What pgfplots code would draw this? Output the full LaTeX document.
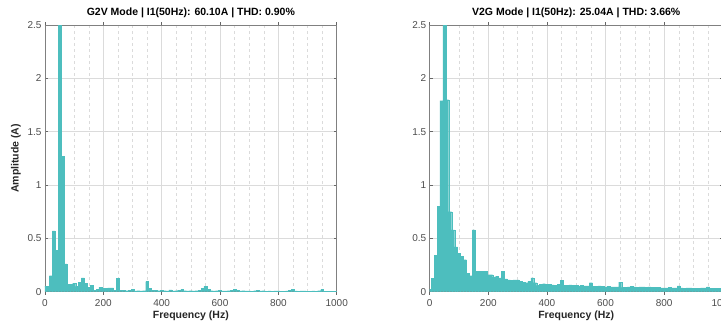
\documentclass[border=0pt]{standalone}
\usepackage{pgfplots}
\pgfplotsset{compat=1.18}
\usepackage{pgfplotstable}
\usepackage{fontspec}
\setmainfont{Liberation Sans}
\definecolor{barc}{RGB}{77,190,190}

\pgfplotstableread{
f a
0 0.05
10 0.05
20 0.15
30 0.57
40 0.39
50 60.10
60 1.27
70 0.26
80 0.07
90 0.07
100 0.08
110 0.05
120 0.09
130 0.13
140 0.08
150 0.04
160 0.06
170 0.015
180 0.02
190 0.04
200 0.03
210 0.03
220 0.035
230 0.035
240 0.015
250 0.125
260 0.015
270 0.012
280 0.01
290 0.012
300 0.02
310 0.008
320 0.01
330 0.008
340 0.01
350 0.095
360 0.03
370 0.015
380 0.012
390 0.01
400 0.012
410 0.01
420 0.008
430 0.018
440 0.008
450 0.01
460 0.015
470 0.02
480 0.01
490 0.008
500 0.01
510 0.008
520 0.01
530 0.012
540 0.03
550 0.05
560 0.02
570 0.01
580 0.008
590 0.01
600 0.012
610 0.008
620 0.008
630 0.01
640 0.015
650 0.025
660 0.012
670 0.008
680 0.01
690 0.008
700 0.008
710 0.006
720 0.01
730 0.012
740 0.008
750 0.01
760 0.006
770 0.008
780 0.006
790 0.008
800 0.008
810 0.006
820 0.006
830 0.008
840 0.012
850 0.025
860 0.008
870 0.006
880 0.008
890 0.008
900 0.006
910 0.006
920 0.008
930 0.006
940 0.01
950 0.02
960 0.006
970 0.006
980 0.006
990 0.006
1000 0.006
}\gtwov

\pgfplotstableread{
f a
0 0.02
10 0.125
20 0.34
30 0.80
40 1.79
50 25.04
60 1.80
70 0.75
80 0.58
90 0.42
100 0.36
110 0.33
120 0.30
130 0.17
140 0.15
150 0.58
160 0.19
170 0.19
180 0.19
190 0.19
200 0.16
210 0.16
220 0.14
230 0.145
240 0.13
250 0.19
260 0.12
270 0.11
280 0.105
290 0.11
300 0.11
310 0.10
320 0.09
330 0.085
340 0.10
350 0.13
360 0.085
370 0.06
380 0.07
390 0.075
400 0.07
410 0.07
420 0.065
430 0.06
440 0.07
450 0.105
460 0.06
470 0.06
480 0.065
490 0.06
500 0.06
510 0.055
520 0.06
530 0.055
540 0.055
550 0.085
560 0.05
570 0.05
580 0.055
590 0.05
600 0.045
610 0.05
620 0.045
630 0.045
640 0.045
650 0.09
660 0.04
670 0.04
680 0.045
690 0.05
700 0.045
710 0.04
720 0.045
730 0.045
740 0.04
750 0.045
760 0.04
770 0.04
780 0.04
790 0.035
800 0.035
810 0.035
820 0.04
830 0.035
840 0.035
850 0.055
860 0.035
870 0.03
880 0.035
890 0.035
900 0.03
910 0.03
920 0.03
930 0.035
940 0.035
950 0.045
960 0.03
970 0.03
980 0.03
990 0.03
1000 0.03
}\vtwog

\pgfplotsset{myax/.style={
  scale only axis, height=266.7pt,
  xmin=0, xmax=1000, ymin=0, ymax=2.5,
  xtick={0,200,400,600,800,1000}, ytick={0,0.5,1,1.5,2,2.5},
  minor x tick num=3,
  xmajorgrids, ymajorgrids, xminorgrids,
  major grid style={black!14, line width=0.5pt},
  minor grid style={black!14, dashed, line width=0.5pt},
  tick align=inside, major tick length=3pt, minor tick length=0pt,
  axis line style={black!50, line width=0.5pt},
  tick style={black!60, line width=0.5pt},
  /pgf/number format/assume math mode=true,
  /pgf/number format/1000 sep={},
  ticklabel style={font=\fontsize{10}{12}\selectfont, text=black!70},
  xticklabel style={yshift=-1pt},
  xlabel={Frequency (Hz)},
  xlabel style={font=\bfseries\fontsize{10.5}{12}\selectfont, text=black!85, yshift=2pt},
  ylabel style={font=\bfseries\fontsize{10.5}{12}\selectfont, text=black!85},
  title style={font=\bfseries\fontsize{10.5}{12}\selectfont, yshift=-2pt},
  ybar, bar width=10,
}}

\begin{document}
\begin{tikzpicture}[x=1pt,y=1pt]
\useasboundingbox (0,0) rectangle (721,325);
\clip (0,0) rectangle (721,325);
\begin{axis}[myax, width=291.7pt, at={(45pt,33.3pt)}, anchor=south west,
  title={G2V Mode | I1(50Hz): 60.10A | THD: 0.90\%},
  ylabel={Amplitude (A)}]
\addplot[fill=barc, draw=barc, line width=0.2pt] table[x=f,y=a] {\gtwov};
\end{axis}
\begin{axis}[myax, width=293pt, at={(429.7pt,33.3pt)}, anchor=south west,
  title={V2G Mode | I1(50Hz): 25.04A | THD: 3.66\%}]
\addplot[fill=barc, draw=barc, line width=0.2pt] table[x=f,y=a] {\vtwog};
\end{axis}
\end{tikzpicture}
\end{document}
